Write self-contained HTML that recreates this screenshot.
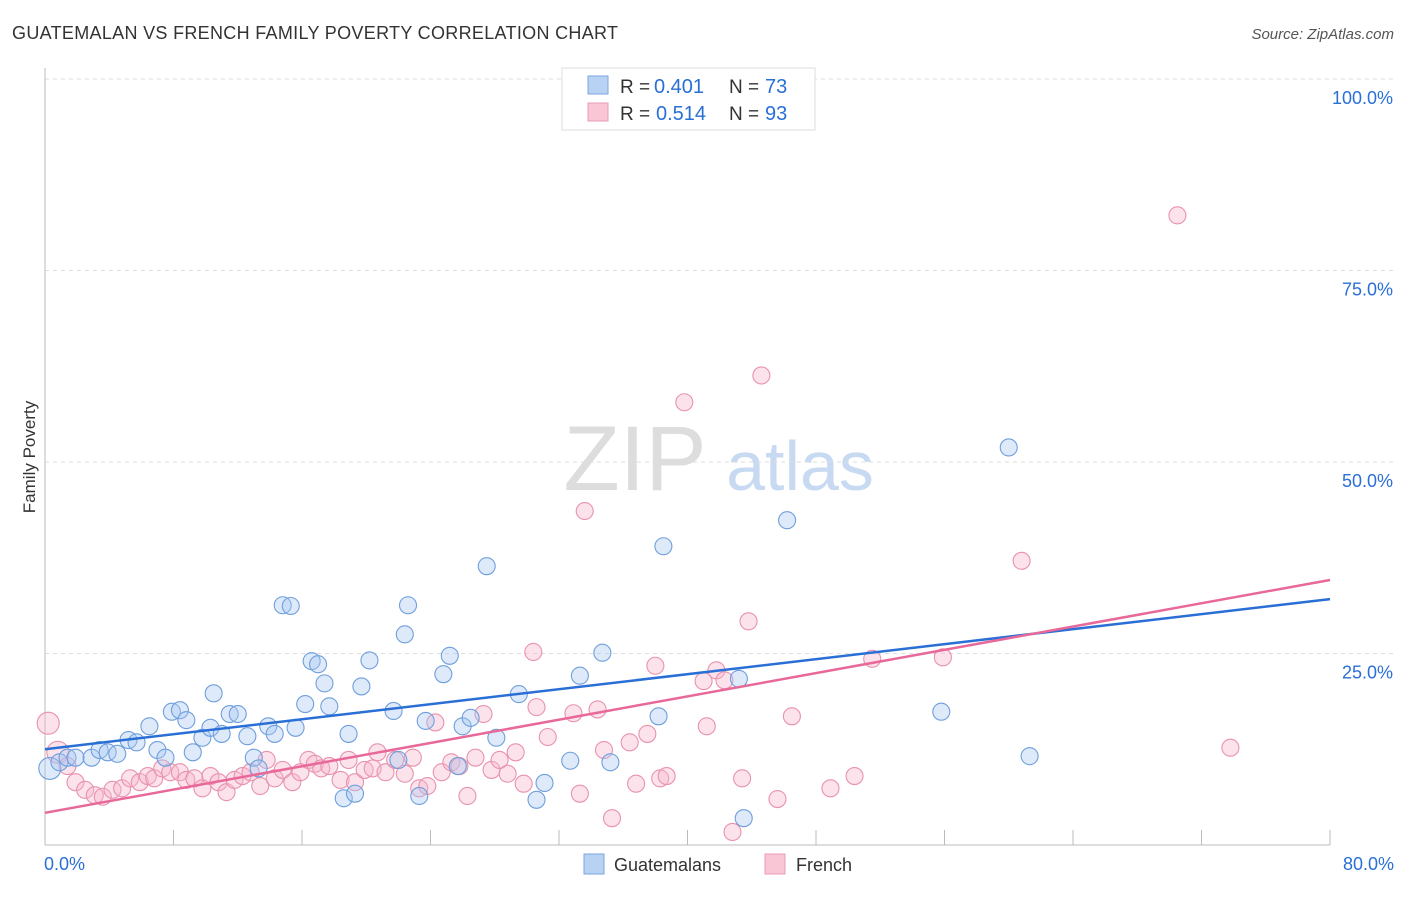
<!DOCTYPE html>
<html><head><meta charset="utf-8"><style>
body{margin:0;background:#fff;font-family:"Liberation Sans",sans-serif}
svg text{font-family:"Liberation Sans",sans-serif}
</style></head><body>
<svg width="1406" height="892" viewBox="0 0 1406 892" id="chart">
<text x="12" y="39" font-size="18" fill="#333" textLength="606">GUATEMALAN VS FRENCH FAMILY POVERTY CORRELATION CHART</text>
<text x="1394" y="39" font-size="15" fill="#555" text-anchor="end" font-style="italic">Source: ZipAtlas.com</text>
<text x="35" y="457" font-size="17" fill="#333" text-anchor="middle" transform="rotate(-90 35 457)">Family Poverty</text>
<g><text x="635" y="490" font-size="92" fill="#ddd" text-anchor="middle" font-family="Liberation Serif">ZIP</text><text x="800" y="490" font-size="70" fill="#c8daf2" text-anchor="middle">atlas</text></g>
<g id="grid"></g><g id="axes"></g><g id="pts"></g><g id="lines"></g>
<g>
<rect x="562" y="68" width="253" height="62" fill="#fff" stroke="#ddd"/>
<rect x="588" y="76" width="20" height="18" fill="#b8d2f4" stroke="#7aa6e0"/>
<rect x="588" y="103" width="20" height="18" fill="#f9c6d6" stroke="#e99ab4"/>
<text x="620" y="93" font-size="19" fill="#333">R =</text><text x="654" y="93" font-size="20" fill="#2a6fd6">0.401</text>
<text x="729" y="93" font-size="19" fill="#333">N =</text><text x="765" y="93" font-size="20" fill="#2a6fd6">73</text>
<text x="620" y="120" font-size="19" fill="#333">R =</text><text x="656" y="120" font-size="20" fill="#2a6fd6">0.514</text>
<text x="729" y="120" font-size="19" fill="#333">N =</text><text x="765" y="120" font-size="20" fill="#2a6fd6">93</text>
</g>
<g>
<rect x="584" y="854" width="20" height="20" fill="#b8d2f4" stroke="#7aa6e0"/>
<text x="614" y="871" font-size="18" fill="#333">Guatemalans</text>
<rect x="765" y="854" width="20" height="20" fill="#f9c6d6" stroke="#e99ab4"/>
<text x="796" y="871" font-size="18" fill="#333">French</text>
</g>
</svg>
<script>
const blueX=[0.3,0.9,1.4,1.9,2.9,3.4,3.9,4.5,5.2,5.7,6.5,7.0,7.5,7.9,8.4,8.8,9.2,9.8,10.5,10.3,11.0,11.5,12.0,12.6,13.0,13.3,13.9,14.3,14.8,15.3,15.6,16.2,16.6,17.0,17.4,17.7,18.6,18.9,19.3,19.7,20.2,21.7,22.0,22.4,22.6,23.3,23.7,24.8,25.2,25.7,26.0,26.5,27.5,28.1,29.5,30.6,31.1,32.7,33.3,34.7,35.2,38.2,38.5,43.2,43.5,46.2,55.8,60.0,61.3];
const blueY=[10.0,10.8,11.4,11.4,11.4,12.4,12.1,11.9,13.7,13.4,15.5,12.4,11.4,17.4,17.6,16.3,12.1,14.0,19.8,15.3,14.5,17.1,17.1,14.2,11.4,10.0,15.5,14.5,31.3,31.2,15.3,18.4,24.0,23.6,21.1,18.1,6.1,14.5,6.7,20.7,24.1,17.5,11.1,27.5,31.3,6.4,16.2,22.3,24.7,10.3,15.5,16.6,36.4,14.0,19.7,5.9,8.1,11.0,22.1,25.1,10.8,16.8,39.0,21.7,3.5,42.4,17.4,51.9,11.6];
const pinkX=[0.2,0.8,1.4,1.9,2.5,3.1,3.6,4.2,4.8,5.3,5.9,6.4,6.8,7.3,7.8,8.4,8.8,9.3,9.8,10.3,10.8,11.3,11.8,12.3,12.8,13.4,13.8,14.3,14.8,15.4,15.9,16.4,16.8,17.2,17.7,18.4,18.9,19.3,19.9,20.4,20.7,21.2,21.8,22.4,22.9,23.3,23.8,24.3,24.7,25.3,25.8,26.3,26.8,27.3,27.8,28.3,28.8,29.3,29.8,30.4,30.6,31.3,32.9,33.3,33.6,34.4,34.8,35.3,36.4,36.8,37.5,38.0,38.3,38.7,39.8,41.0,41.2,41.8,42.3,42.8,43.4,43.8,44.6,45.6,46.5,48.9,50.4,51.5,55.9,60.8,70.5,73.8];
const pinkY=[15.9,12.1,10.3,8.2,7.2,6.5,6.3,7.2,7.4,8.7,8.2,9.0,8.7,10.0,9.5,9.5,8.5,8.7,7.4,9.0,8.2,6.9,8.5,9.0,9.5,7.7,11.1,8.7,9.8,8.2,9.5,11.1,10.6,10.0,10.3,8.5,11.1,8.2,9.8,10.0,12.1,9.5,11.1,9.3,11.4,7.4,7.7,16.0,9.5,10.8,10.3,6.4,11.4,17.1,9.8,11.1,9.3,12.1,8.0,25.2,18.0,14.1,17.2,6.7,43.6,17.7,12.4,3.5,13.4,8.0,14.5,23.4,8.7,9.0,57.8,21.4,15.5,22.8,21.5,1.7,8.7,29.2,61.3,6.0,16.8,7.4,9.0,24.3,24.5,37.1,82.2,12.7];
const blueLine=[12.5,32.1];
const pinkLine=[4.2,34.6];
const yTicks=[25,50,75,100];
const xTicks=[0,8,16,24,32,40,48,56,64,72,80];
const NS='http://www.w3.org/2000/svg';
const xs=v=>45+v*(1285/80);
const ys=v=>845-v*(766/100);
function mk(t,a,p){const e=document.createElementNS(NS,t);for(const k in a)e.setAttribute(k,a[k]);document.getElementById(p).appendChild(e);return e;}
yTicks.forEach(t=>{
 const l=mk('line',{x1:45,x2:1395,y1:ys(t),y2:ys(t),stroke:'#ddd','stroke-dasharray':'4,4'},'grid');
 
 
 const tx=mk('text',{x:1393,y:ys(t)+25,'font-size':18,fill:'#2a6fd6','text-anchor':'end'},'grid');
 tx.textContent=t.toFixed(1)+'%';
 
 
});
const ax=mk('line',{x1:45,x2:1330,y1:845,y2:845,stroke:'#bbb'},'axes');


const ay=mk('line',{x1:45,x2:45,y1:68,y2:845,stroke:'#bbb'},'axes');


xTicks.forEach(t=>{
 const l=mk('line',{x1:xs(t),x2:xs(t),y1:830,y2:845,stroke:'#bbb'},'axes');
 
 
});
[[0,'start'],[80,'end']].forEach(([t,a])=>{
 const tx=mk('text',{x:t==0?44:1394,y:870,'font-size':18,fill:'#2a6fd6','text-anchor':a},'axes');
 tx.textContent=t.toFixed(1)+'%';
 
 
});
function pts(X,Y,f,s,name){X.forEach((x,i)=>{
 const c=mk('circle',{cx:xs(x),cy:ys(Y[i]),r:(i<2&&name=='french-point')||(i==0&&name=='guatemalan-point')?11:8.5,fill:f,'fill-opacity':0.38,stroke:s,'stroke-width':1.1},'pts');
 
 
});}
pts(pinkX,pinkY,'#f7b6cb','#e892ae','french-point');
pts(blueX,blueY,'#a9c9f1','#6f9fdc','guatemalan-point');
const bl=mk('line',{x1:xs(0),x2:xs(80),y1:ys(blueLine[0]),y2:ys(blueLine[1]),stroke:'#2a6fd6','stroke-width':2.5},'lines');


const pl=mk('line',{x1:xs(0),x2:xs(80),y1:ys(pinkLine[0]),y2:ys(pinkLine[1]),stroke:'#e8689a','stroke-width':2.5},'lines');


</script>
</body></html>
